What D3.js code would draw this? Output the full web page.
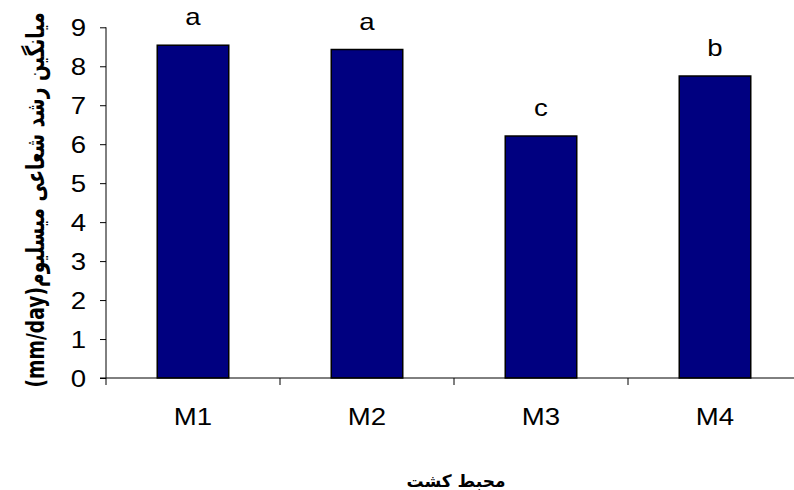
<!DOCTYPE html>
<html>
<head>
<meta charset="utf-8">
<script src="https://cdn.jsdelivr.net/npm/d3@7"></script>
<style>
  html, body { margin: 0; padding: 0; background: #fff; }
  svg { display: block; }
  text { font-family: "Liberation Sans", Arial, sans-serif; fill: #000; }
  .fa { font-family: "DejaVu Sans", "Liberation Sans", sans-serif; font-weight: bold; }
</style>
</head>
<body>
<svg id="chart" width="794" height="490"></svg>
<script>
// Mean radial mycelial growth per culture medium
const categories = ["M1", "M2", "M3", "M4"];
const values = [8.54, 8.43, 6.21, 7.75];
const groupLetters = ["a", "a", "c", "b"];
const yTicks = [0, 1, 2, 3, 4, 5, 6, 7, 8, 9];
const yTitle = "میانگین رشد شعاعی میسلیوم(mm/day)";
const xTitle = "محبط کشت";

// the figure is drawn with a wide aspect: glyphs are stretched horizontally
const stretch = 1.2;
const fontSize = 23;

const svg = d3.select("#chart");

const x = d3.scaleBand()
  .domain(categories)
  .range([106, 802])
  .paddingInner(0.589)
  .paddingOuter(0.2945);

const y = d3.scaleLinear().domain([0, 9]).range([378, 27.3]);

// Bars
svg.append("g").selectAll("rect")
  .data(categories)
  .join("rect")
  .attr("x", d => x(d))
  .attr("y", (d, i) => y(values[i]))
  .attr("width", x.bandwidth())
  .attr("height", (d, i) => y(0) - y(values[i]))
  .attr("fill", "#000080")
  .attr("stroke", "#000")
  .attr("stroke-width", 1.5);

// Significance letters above bars
svg.append("g").selectAll("text")
  .data(categories)
  .join("text")
  .attr("transform", (d, i) =>
    `translate(${x(d) + x.bandwidth() / 2},${y(values[i]) - 20}) scale(${stretch},1)`)
  .attr("text-anchor", "middle")
  .attr("font-size", fontSize)
  .text((d, i) => groupLetters[i]);

// Y axis
const yAxis = svg.append("g")
  .attr("transform", "translate(106,0)")
  .call(d3.axisLeft(y).tickValues(yTicks).tickSize(6).tickFormat(d3.format("d")));
yAxis.selectAll(".tick text")
  .attr("x", null)
  .attr("dy", "0.36em")
  .attr("transform", `translate(-20,0) scale(${stretch},1)`)
  .attr("font-size", fontSize)
  .style("font-family", "'Liberation Sans', Arial, sans-serif")
  .attr("fill", "#000");
yAxis.select(".domain").attr("stroke", "#000").attr("d", `M0,${y(9)}V${y(0)}`);
yAxis.selectAll(".tick line").attr("stroke", "#000");

// X axis: line with ticks at category boundaries
const xAxisG = svg.append("g");
xAxisG.append("line")
  .attr("x1", 100).attr("x2", 794)
  .attr("y1", y(0)).attr("y2", y(0))
  .attr("stroke", "#000");
const step = x.step();
const boundaries = categories.map(c => x(c) - x.paddingOuter() * step);
xAxisG.selectAll("line.bt")
  .data(boundaries)
  .join("line")
  .attr("class", "bt")
  .attr("x1", d => d).attr("x2", d => d)
  .attr("y1", y(0)).attr("y2", y(0) + 7)
  .attr("stroke", "#000");
xAxisG.selectAll("text")
  .data(categories)
  .join("text")
  .attr("transform", d => `translate(${x(d) + x.bandwidth() / 2},${y(0) + 47}) scale(${stretch},1)`)
  .attr("text-anchor", "middle")
  .attr("font-size", fontSize)
  .text(d => d);

// Axis titles
svg.append("text")
  .attr("class", "fa")
  .attr("transform", "translate(44,200) rotate(-90) scale(1.1,1.5)")
  .attr("text-anchor", "middle")
  .attr("direction", "rtl")
  .attr("font-size", 17)
  .text(yTitle);

svg.append("text")
  .attr("class", "fa")
  .attr("x", 456)
  .attr("y", 487)
  .attr("text-anchor", "middle")
  .attr("direction", "rtl")
  .attr("font-size", 17)
  .text(xTitle);
</script>
</body>
</html>
